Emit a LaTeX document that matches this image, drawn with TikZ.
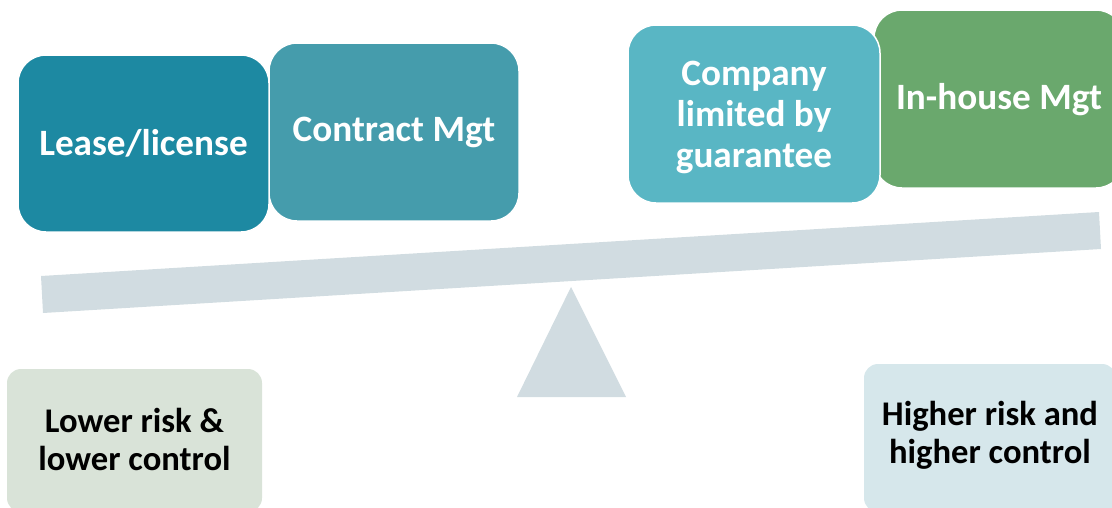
\documentclass[tikz,border=0pt]{standalone}
\usepackage{fontspec}
\setmainfont{Carlito}
\begin{document}
\begin{tikzpicture}[x=1pt,y=-1pt,
  topbox/.style={draw=white, line width=1.5pt, rounded corners=28pt},
  toptext/.style={text=white, font=\bfseries\fontsize{37.2}{41}\selectfont, align=center, inner sep=0pt},
  basetext/.style={text=black, font=\bfseries\fontsize{34.6}{38}\selectfont, align=center, inner sep=0pt},
  beamcol/.style={fill=beamgray}]
\definecolor{leasecol}{HTML}{1D89A2}
\definecolor{contractcol}{HTML}{459CAC}
\definecolor{companycol}{HTML}{59B6C4}
\definecolor{inhousecol}{HTML}{6AA86D}
\definecolor{beamgray}{HTML}{D1DCE1}
\definecolor{lowcol}{HTML}{D9E3D8}
\definecolor{highcol}{HTML}{D6E7EB}
\useasboundingbox (0,0) rectangle (1112,507);
\begin{scope}
\clip (0,0) rectangle (1112,507);
% option boxes on the beam
\draw[topbox, fill=contractcol] (269,43) rectangle (519,221);
\node (contract) at (394,132.5) [toptext] {Contract Mgt};
\draw[topbox, fill=leasecol] (18,55) rectangle (269,232);
\node (lease) at (143.5,143.5) [toptext] {Lease/license};
\draw[topbox, fill=inhousecol] (874,10) rectangle (1124,188);
\node (inhouse) at (999,99.5) [toptext] {In-house Mgt};
\draw[topbox, fill=companycol] (628,25) rectangle (880,203);
\node (company) at (754,117) [toptext] {Company\\limited by\\guarantee};
% beam and fulcrum
\fill[beamcol] (41,276) -- (1099,212) -- (1101,249) -- (43,313) -- cycle;
\fill[beamcol] (571,287) -- (626,397) -- (517,397) -- cycle;
% end labels
\fill[lowcol, rounded corners=14pt] (7,369) rectangle (262,512);
\node (low) at (134.5,439.5) [basetext] {Lower risk \&\\lower control};
\fill[highcol, rounded corners=14pt] (864,364) rectangle (1116,512);
\node (high) at (990,435.5) [basetext] {Higher risk and\\higher control};
\end{scope}
\end{tikzpicture}
\end{document}
